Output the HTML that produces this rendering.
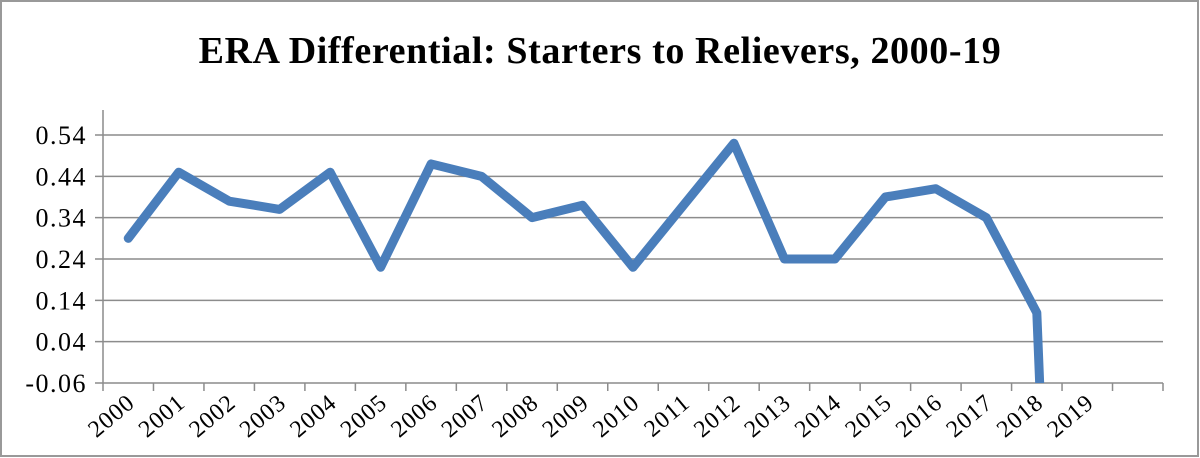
<!DOCTYPE html>
<html><head><meta charset="utf-8"><style>
html,body{margin:0;padding:0;background:#fff;width:1200px;height:458px;overflow:hidden;}
svg{display:block;font-family:"Liberation Serif",serif;}
</style></head><body>
<svg width="1200" height="458" viewBox="0 0 1200 458">
<rect x="1" y="1" width="1197" height="455" fill="#fff" stroke="#999" stroke-width="2"/>
<text x="600" y="63" text-anchor="middle" font-size="38" font-weight="bold" letter-spacing="0.6">ERA Differential: Starters to Relievers, 2000-19</text>
<defs><clipPath id="pc"><rect x="103" y="100" width="1060" height="283"/></clipPath></defs>
<g id="grid"></g><g id="axes"></g>
<g clip-path="url(#pc)"><polyline id="line" fill="none" stroke="#4a7ebb" stroke-width="9" stroke-linejoin="round" stroke-linecap="round"/></g>
</svg>
<script>
const categories=["2000","2001","2002","2003","2004","2005","2006","2007","2008","2009","2010","2011","2012","2013","2014","2015","2016","2017","2018","2019",""];
const values=[0.29,0.45,0.38,0.36,0.45,0.22,0.47,0.44,0.34,0.37,0.22,0.37,0.52,0.24,0.24,0.39,0.41,0.34,0.11,-2.9];
const yTicks=[-0.06,0.04,0.14,0.24,0.34,0.44,0.54];
const X0=103,X1=1163,Y0=383,Y1=135,ymin=-0.06,ymax=0.54;
const bw=(X1-X0)/categories.length;
const xs=i=>X0+(i+0.5)*bw;
const ys=v=>Y0-(v-ymin)/(ymax-ymin)*(Y0-Y1);
const NS="http://www.w3.org/2000/svg";
const grid=document.getElementById('grid'),axes=document.getElementById('axes');
function mk(t,a,p){const e=document.createElementNS(NS,t);for(const k in a)e.setAttribute(k,a[k]);p.appendChild(e);return e;}
yTicks.forEach(v=>{
 const y=ys(v);
 const g=mk('line',{x1:X0-8,x2:X1,y1:y,y2:y,stroke:'#8c8c8c','stroke-width':1.5},grid);
 
 
 const t=mk('text',{x:X0-16,y:y+9,'text-anchor':'end','font-size':26,'letter-spacing':1.5},axes);
 t.textContent=v.toFixed(2);
 
 
});
const ya=mk('line',{x1:X0,x2:X0,y1:110,y2:Y0,stroke:'#8c8c8c','stroke-width':1.5},axes);


for(let i=0;i<=categories.length;i++){
 const x=X0+i*bw;
 const tk=mk('line',{x1:x,x2:x,y1:Y0,y2:Y0+8,stroke:'#8c8c8c','stroke-width':1.5},axes);
 
 
}
categories.forEach((c,i)=>{
 if(!c)return;
 const x=xs(i)+8,y=Y0+22;
 const t=mk('text',{x:x,y:y,'text-anchor':'end','font-size':24,'letter-spacing':1,transform:`rotate(-40 ${x} ${y})`},axes);
 t.textContent=c;
 
 
});
document.getElementById('line').setAttribute('points',values.map((v,i)=>xs(i)+','+ys(v)).join(' '));
</script>
</body></html>
